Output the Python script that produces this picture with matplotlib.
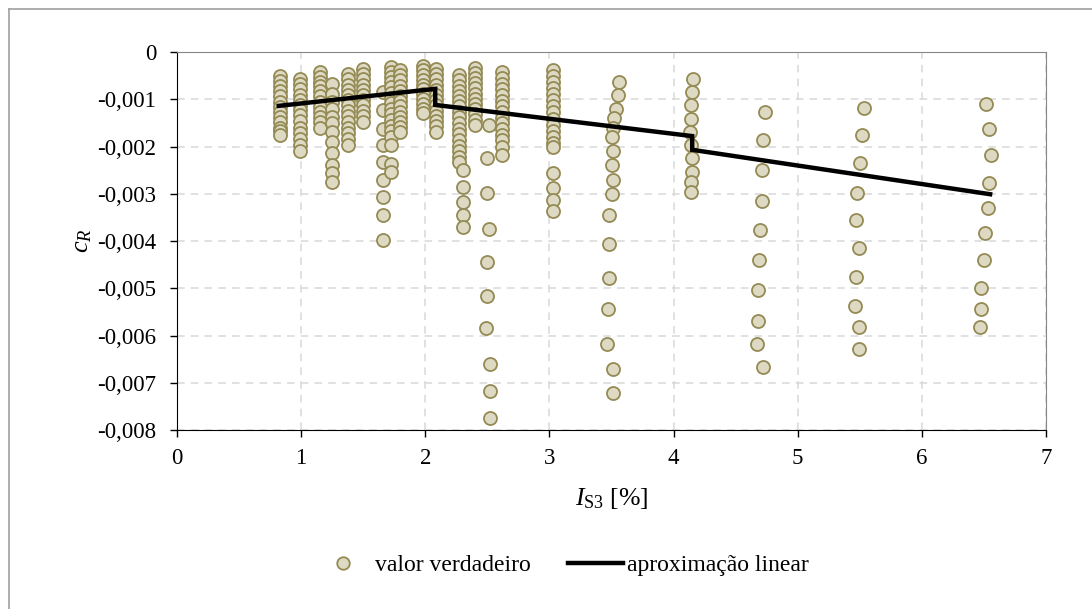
import matplotlib

matplotlib.use("Agg")

import matplotlib.pyplot as plt
from matplotlib.lines import Line2D
from matplotlib.ticker import FuncFormatter, MultipleLocator

# --- data: "valor verdadeiro" grouped by I_S3 column ---------------------
col_x = [0.83, 0.99, 1.15, 1.25, 1.38, 1.50, 1.66, 1.72, 1.80, 1.985,
         2.09, 2.27, 2.30, 2.40, 2.62, 3.03]
col_y = [
    [-0.0005, -0.00061, -0.00072, -0.00083, -0.00094, -0.00105, -0.00116,
     -0.00127, -0.00138, -0.00149, -0.0016, -0.00168, -0.00176],
    [-0.00057, -0.00068, -0.00079, -0.0009, -0.00101, -0.00112, -0.00123,
     -0.00134, -0.00147, -0.0016, -0.00172, -0.00184, -0.00197, -0.0021],
    [-0.00043, -0.00053, -0.00063, -0.00073, -0.00083, -0.00094, -0.00105,
     -0.00116, -0.00127, -0.00138, -0.00149, -0.0016],
    [-0.00068, -0.00088, -0.00105, -0.0012, -0.00137, -0.00151, -0.00169,
     -0.0019, -0.00214, -0.00239, -0.00257, -0.00276],
    [-0.00047, -0.00058, -0.00069, -0.0008, -0.00091, -0.00102, -0.00113,
     -0.00124, -0.00136, -0.00148, -0.0016, -0.00172, -0.00184, -0.00197],
    [-0.00036, -0.00047, -0.00058, -0.00069, -0.0008, -0.00091, -0.00102,
     -0.00113, -0.00124, -0.00136, -0.00148],
    [-0.00084, -0.00123, -0.00162, -0.00197, -0.00232, -0.00271, -0.00306,
     -0.00345, -0.00398],
    [-0.00031, -0.00042, -0.00053, -0.00064, -0.00075, -0.00086, -0.00097,
     -0.00108, -0.0012, -0.00132, -0.00144, -0.00156, -0.00168, -0.0018,
     -0.00197, -0.00236, -0.00253],
    [-0.00038, -0.00049, -0.0006, -0.00071, -0.00082, -0.00093, -0.00104,
     -0.00115, -0.00126, -0.00137, -0.00148, -0.00159, -0.0017],
    [-0.00029, -0.00039, -0.00049, -0.00059, -0.00069, -0.00079, -0.00089,
     -0.00099, -0.0011, -0.0012, -0.0013],
    [-0.00036, -0.00047, -0.00058, -0.00069, -0.0008, -0.00091, -0.00102,
     -0.00113, -0.00124, -0.00135, -0.00146, -0.00157, -0.00169],
    [-0.00049, -0.0006, -0.00071, -0.00082, -0.00093, -0.00104, -0.00115,
     -0.00126, -0.00138, -0.0015, -0.00162, -0.00174, -0.00186, -0.00198,
     -0.0021, -0.00222, -0.00232],
    [-0.0025, -0.00286, -0.00318, -0.00345, -0.0037],
    [-0.00033, -0.00044, -0.00055, -0.00066, -0.00077, -0.00088, -0.00099,
     -0.0011, -0.00121, -0.00132, -0.00143, -0.00155],
    [-0.00043, -0.00055, -0.00067, -0.00079, -0.00091, -0.00103, -0.00115,
     -0.00127, -0.00139, -0.00151, -0.00163, -0.00175, -0.00187, -0.002,
     -0.00218],
    [-0.00038, -0.0005, -0.00063, -0.00076, -0.00089, -0.00102, -0.00115,
     -0.00128, -0.00141, -0.00154, -0.00167, -0.0018, -0.00193, -0.002,
     -0.00256, -0.00288, -0.00313, -0.00336],
]

# sparse columns with their own x per point
x_251 = [2.51, 2.50, 2.50, 2.51, 2.50, 2.50, 2.49, 2.52, 2.52, 2.52]
y_251 = [-0.00155, -0.00224, -0.00298, -0.00375, -0.00444, -0.00516,
         -0.00584, -0.0066, -0.00717, -0.00775]
x_350 = [3.56, 3.55, 3.54, 3.52, 3.51, 3.50, 3.51, 3.50, 3.51, 3.50,
         3.48, 3.48, 3.48, 3.47, 3.46, 3.51, 3.51]
y_350 = [-0.00063, -0.0009, -0.0012, -0.0014, -0.0016, -0.0018, -0.0021,
         -0.0024, -0.0027, -0.003, -0.00346, -0.00407, -0.00478, -0.00544,
         -0.00618, -0.00671, -0.00722]
x_415 = [4.16, 4.15, 4.14, 4.14, 4.13, 4.14, 4.15, 4.15, 4.14, 4.14]
y_415 = [-0.00057, -0.00085, -0.00112, -0.00142, -0.00169, -0.00197,
         -0.00224, -0.00254, -0.00275, -0.00296]
x_470 = [4.74, 4.72, 4.71, 4.71, 4.70, 4.69, 4.68, 4.68, 4.67, 4.72]
y_470 = [-0.00127, -0.00186, -0.0025, -0.00315, -0.00377, -0.0044,
         -0.00504, -0.0057, -0.00618, -0.00667]
x_550 = [5.53, 5.52, 5.50, 5.48, 5.47, 5.49, 5.47, 5.46, 5.49, 5.49]
y_550 = [-0.00119, -0.00176, -0.00234, -0.00299, -0.00356, -0.00415,
         -0.00476, -0.00538, -0.00583, -0.00629]
x_650 = [6.52, 6.54, 6.56, 6.54, 6.53, 6.51, 6.50, 6.48, 6.48, 6.47]
y_650 = [-0.00109, -0.00162, -0.00217, -0.00277, -0.0033, -0.00384,
         -0.0044, -0.00499, -0.00543, -0.00583]

# --- data: "aproximação linear" -------------------------------------------
lin_x = [0.82, 2.08, 2.08, 4.15, 4.15, 6.55]
lin_y = [-0.00114, -0.00078, -0.00112, -0.00178, -0.00207, -0.00301]

x_ticks = [0, 1, 2, 3, 4, 5, 6, 7]

FILL = "#DDD9C3"
EDGE = "#948A54"
GRID = "#D9D9D9"
TICK_SIZE = 16.5

plt.rcParams["font.family"] = ["Liberation Serif", "DejaVu Serif"]
plt.rcParams["mathtext.fontset"] = "custom"
plt.rcParams["mathtext.rm"] = "Liberation Serif"
plt.rcParams["mathtext.it"] = "Liberation Serif:italic"

pts_x = []
pts_y = []
for cx, ys in zip(col_x, col_y):
    pts_x.extend([cx] * len(ys))
    pts_y.extend(ys)
for xs, ys in [(x_251, y_251), (x_350, y_350), (x_415, y_415),
               (x_470, y_470), (x_550, y_550), (x_650, y_650)]:
    pts_x.extend(xs)
    pts_y.extend(ys)

fig = plt.figure(figsize=(10.92, 6.09), dpi=100)
fig.patch.set_facecolor("white")
ax = fig.add_axes([177 / 1092, 1 - 430 / 609, (1046 - 177) / 1092, (430 - 52) / 609])

ax.scatter(pts_x, pts_y, s=88, facecolor=FILL, edgecolor=EDGE, linewidth=1.3,
           zorder=3, label="valor verdadeiro")
ax.plot(lin_x, lin_y, color="black", linewidth=3.2, solid_joinstyle="miter",
        zorder=4, label="aproximação linear")

ax.set_xlim(0, 7)
ax.set_ylim(-0.008, 0)
ax.set_xticks(x_ticks)
ax.yaxis.set_major_locator(MultipleLocator(0.001))
ax.yaxis.set_major_formatter(
    FuncFormatter(lambda v, _: "0" if abs(v) < 1e-12 else f"{v:.3f}".replace(".", ","))
)
ax.grid(True, color=GRID, linestyle=(0, (5, 4)), linewidth=1.1, zorder=0)
ax.set_axisbelow(True)

ax.spines["left"].set_color("black")
ax.spines["bottom"].set_color("black")
ax.spines["top"].set_color("#868686")
ax.spines["right"].set_color("#868686")
ax.tick_params(direction="out", length=5, width=1, labelsize=TICK_SIZE, colors="black")
ax.tick_params(axis="y", pad=10)
ax.tick_params(axis="x", pad=8)

ax.set_ylabel(r"$\mathit{c}_{\mathit{R}}$", fontsize=19, labelpad=2)
ax.set_xlabel(r"$\mathit{I}_{\mathrm{S3}}$ [%]", fontsize=18.5, labelpad=12)

handles = [
    Line2D([], [], marker="o", linestyle="none", markersize=9,
           markerfacecolor=FILL, markeredgecolor=EDGE, markeredgewidth=1.3),
    Line2D([], [], color="black", linewidth=3.2),
]
fig.legend(handles, ["valor verdadeiro", "aproximação linear"], loc="center",
           bbox_to_anchor=(0.515, 1 - 565 / 609), ncol=2, frameon=False,
           fontsize=17, handlelength=2.3, handletextpad=0.2,
           columnspacing=1.6)

# outer chart border (top-left visible)
fig.add_artist(Line2D([8.5 / 1092, 8.5 / 1092], [0, 1 - 9 / 609],
                      transform=fig.transFigure, color="#A0A0A0", linewidth=1.2))
fig.add_artist(Line2D([8.5 / 1092, 1], [1 - 9 / 609, 1 - 9 / 609],
                      transform=fig.transFigure, color="#A0A0A0", linewidth=1.2))

fig.savefig("out.png", dpi=100, facecolor="white")
plt.close(fig)
